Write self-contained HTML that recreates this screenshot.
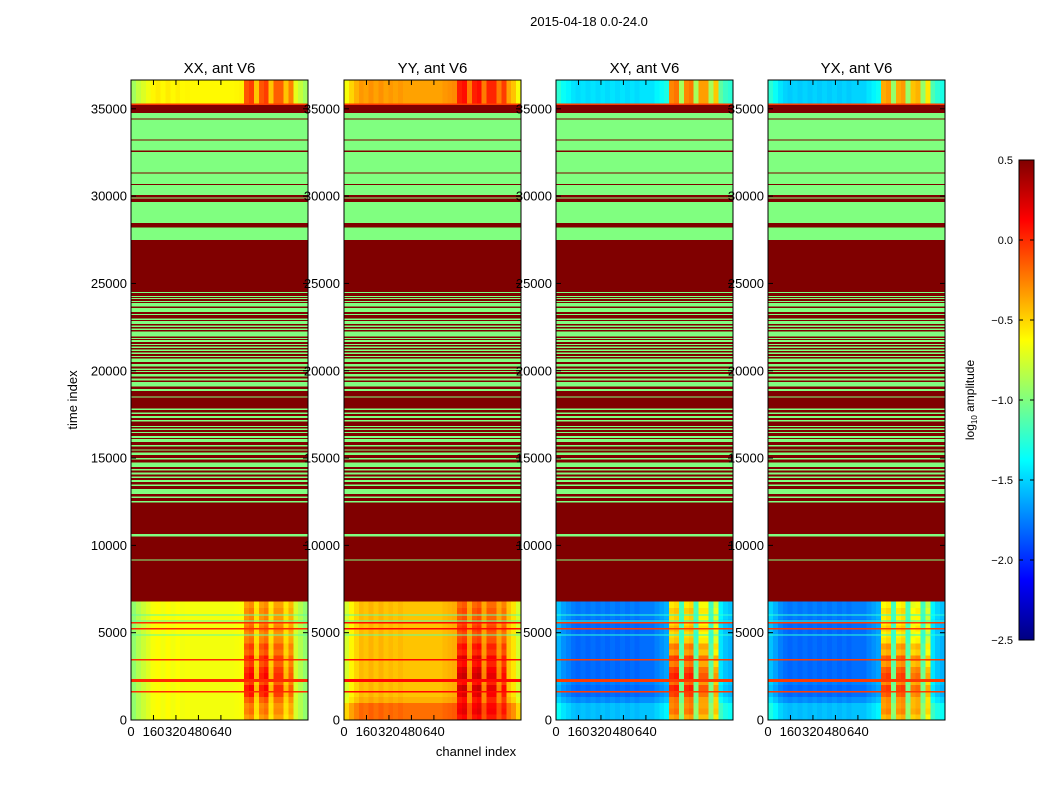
<!DOCTYPE html>
<html><head><meta charset="utf-8">
<style>
html,body{margin:0;padding:0;background:#fff;}
svg{display:block;font-family:"Liberation Sans","DejaVu Sans",sans-serif;}
</style></head>
<body>
<svg id="fig" width="1050" height="800" viewBox="0 0 1050 800" xmlns="http://www.w3.org/2000/svg">
<defs>
<linearGradient id="jet" x1="0" y1="1" x2="0" y2="0">
<stop offset="0" stop-color="#000080"/>
<stop offset="0.125" stop-color="#0000ff"/>
<stop offset="0.375" stop-color="#00ffff"/>
<stop offset="0.5" stop-color="#80ff80"/>
<stop offset="0.625" stop-color="#ffff00"/>
<stop offset="0.875" stop-color="#ff0000"/>
<stop offset="1" stop-color="#800000"/>
</linearGradient>
</defs>
<text x="589" y="26" font-size="13" text-anchor="middle">2015-04-18 0.0-24.0</text>
<text x="0" y="0" font-size="13" text-anchor="middle" transform="translate(77,400) rotate(-90)">time index</text>
<text x="476" y="756" font-size="13" text-anchor="middle">channel index</text>
<g id="panels"></g>
<g>
<rect x="1019" y="160" width="15" height="480" fill="url(#jet)" stroke="#000" stroke-width="1"/>
<g id="cbticks"></g>
<text x="0" y="0" font-size="12" text-anchor="middle" transform="translate(974,400) rotate(-90)">log<tspan font-size="8" dy="3">10</tspan><tspan dy="-3"> amplitude</tspan></text>
</g>
</svg>
<script>
// ---- data ----
const panelTitles = ["XX, ant V6", "YY, ant V6", "XY, ant V6", "YX, ant V6"];
const yTicks = [0, 5000, 10000, 15000, 20000, 25000, 30000, 35000];
const xTicks = [0, 160, 320, 480, 640];
const cbTicks = [0.5, 0.0, -0.5, -1.0, -1.5, -2.0, -2.5];
const cbLabels = ["0.5", "0.0", "\u22120.5", "\u22121.0", "\u22121.5", "\u22122.0", "\u22122.5"];
const greenBands = [
[34450,34770],[33250,34390],[32620,33190],[31350,32530],[30700,31290],[30060,30640],[29880,29930],[28470,29670],[27500,28200],
[24460,24518],[24231,24289],[24098,24155],[23945,24002],[23678,23888],[23372,23601],[23220,23258],[22914,22991],[22685,22838],
[22494,22590],[22342,22418],[21960,22246],[21826,21883],[21635,21750],[21463,21521],[21311,21387],[21139,21215],[20967,21043],
[20776,20853],[20509,20700],[20242,20394],[20051,20127],[19917,19974],[19669,19803],[19440,19554],[19096,19344],[18848,18963],
[18466,18524],[17760,17836],[17512,17607],[17302,17397],[17092,17187],[16767,16844],[16595,16691],[16424,16500],[16156,16252],
[15927,16080],[15660,15755],[15431,15488],[15164,15316],[14916,15011],[14476,14744],[14286,14362],[14056,14171],[13866,13942],
[13637,13751],[13407,13484],[12949,13216],[12720,12797],[12453,12529],[10500,10650],[9130,9200]
];
const greenValue = -1.0;
const satValue = 0.5;
const baseXX = [-0.95,-0.85,-0.78,-0.72,-0.65,-0.62,-0.66,-0.62,-0.66,-0.63,-0.66,-0.65,-0.66,-0.66,-0.66,-0.66,-0.66,-0.66,-0.66,-0.66,-0.66,-0.65,-0.64,-0.45,-0.4,-0.6,-0.45,-0.4,-0.6,-0.45,-0.45,-0.6,-0.5,-0.75,-0.85,-0.95];
const baseYY = [-0.75,-0.6,-0.5,-0.42,-0.45,-0.4,-0.45,-0.4,-0.45,-0.42,-0.45,-0.42,-0.45,-0.45,-0.45,-0.45,-0.45,-0.45,-0.45,-0.45,-0.42,-0.4,-0.38,-0.3,-0.25,-0.4,-0.3,-0.25,-0.4,-0.3,-0.3,-0.4,-0.35,-0.45,-0.55,-0.75];
const baseXY = [-1.6,-1.7,-1.75,-1.8,-1.83,-1.8,-1.83,-1.8,-1.83,-1.8,-1.83,-1.8,-1.83,-1.8,-1.83,-1.8,-1.83,-1.8,-1.8,-1.8,-1.75,-1.7,-1.65,-0.8,-0.75,-1.3,-0.8,-0.75,-1.3,-0.85,-0.85,-1.3,-0.95,-1.45,-1.55,-1.6];
const baseYX = [-1.55,-1.65,-1.75,-1.8,-1.83,-1.8,-1.83,-1.8,-1.83,-1.8,-1.83,-1.8,-1.83,-1.8,-1.83,-1.8,-1.83,-1.8,-1.8,-1.8,-1.75,-1.7,-1.65,-0.85,-0.8,-1.3,-0.85,-0.8,-1.3,-0.9,-0.85,-1.3,-1.0,-1.45,-1.55,-1.6];
const hotXX = [0,0,0,0,0,0,0,0,0,0,0,0,0,0,0,0,0,0,0,0,0,0,0,0.55,0.6,0.2,0.55,0.6,0.2,0.5,0.5,0.2,0.4,0,0,0];
const hotYY = [0,0,0,0,0,0,0,0,0,0,0,0,0,0,0,0,0,0,0,0,0,0,0,0.6,0.6,0.15,0.6,0.6,0.15,0.55,0.55,0.15,0.5,0,0,0];
const hotXY = [0,0,0,0,0,0,0,0,0,0,0,0,0,0,0,0,0,0,0,0,0,0,0,0.9,0.9,0.3,0.9,0.9,0.3,0.8,0.8,0.3,0.7,0,0,0];
const hotYX = [0,0,0,0,0,0,0,0,0,0,0,0,0,0,0,0,0,0,0,0,0,0,0,0.85,0.85,0.3,0.85,0.85,0.3,0.75,0.75,0.3,0.7,0,0,0];
const rowBoost = [0.2,0.35,0.3,0.5,0.8,0.9,0.6,0.9,0.8,0.6,0.8,0.5,0.6,0.35,0.3,0.4,0.3,0.25,0.3,0.2];
const rowShiftXX = [0,0,0,0,0,0,0,0,0,0,0,0,0,0,0,0,0,0,0,0];
const rowShiftYY = [0.25,0.25,0.25,0.05,0,0,0,0,0,0,0,0,0,0,0,0,0,0,0,0];
const rowShiftXY = [0.25,0.25,0.25,0.1,0,0,0.05,0,0,0,0,0,0,0,0,0,0,0.05,0.05,0.05];
const rowShiftYX = [0.25,0.25,0.25,0.1,0,0,0.05,0,0,0,0,0,0,0,0,0,0,0.05,0.05,0.05];
const topShift = [0.05, 0.1, 0.35, 0.3];
const topBoost = [0.5, 0.4, 0.2, 0.2];
const coolLines = [[5970,60],[5650,60],[4830,60]];
const hotLines = [[5560,60],[5210,60],[3440,60],[2290,60],[2190,60],[1600,60]];
const coolLineValue = [-1.1, -1.1, -1.25, -1.25];
const hotLineValue = [0.0, 0.1, -0.05, -0.05];
const edgeLine = [35230, 35300];
const edgeLineValue = -0.05;

const bases = [baseXX, baseYY, baseXY, baseYX];
const hots = [hotXX, hotYY, hotXY, hotYX];
const rowShifts = [rowShiftXX, rowShiftYY, rowShiftXY, rowShiftYX];

// ---- layout ----
const NS = "http://www.w3.org/2000/svg";
const panelLeft = [131, 344, 556, 768];
const PW = 177, TOP = 80, BOT = 720;
const TMAX = 36650, CMAX = 1260, VMIN = -2.5, VMAX = 0.5;
const yScale = t => BOT - t * (BOT - TOP) / TMAX;
const xScale = (p, c) => panelLeft[p] + c * PW / CMAX;
function clip(v){return Math.max(0, Math.min(1, v));}
function jet(v){
  const x = clip((v - VMIN) / (VMAX - VMIN));
  const r = clip(1.5 - Math.abs(4*x - 3)), g = clip(1.5 - Math.abs(4*x - 2)), b = clip(1.5 - Math.abs(4*x - 1));
  return "rgb(" + Math.round(r*255) + "," + Math.round(g*255) + "," + Math.round(b*255) + ")";
}
function mk(tag, attrs, parent){
  const e = document.createElementNS(NS, tag);
  for (const k in attrs) e.setAttribute(k, attrs[k]);
  parent.appendChild(e);
  return e;
}
const root = document.getElementById("panels");
const NB = 36, BW = 35, RH = 340;
for (let p = 0; p < 4; p++) {
  const g = mk("g", {}, root);
  
  
  const hm = mk("g", {"shape-rendering": "crispEdges"}, g);
  
  
  const sat = mk("rect", {x: xScale(p,0), y: yScale(edgeLine[1]), width: PW, height: yScale(6800) - yScale(edgeLine[1]), fill: jet(satValue)}, hm);
  
  
  for (const b of greenBands) {
    const y1 = yScale(b[1]), y2 = yScale(b[0]);
    const r = mk("rect", {x: xScale(p,0), y: y1, width: PW, height: Math.max(1, y2 - y1), fill: jet(greenValue)}, hm);
    
    
  }
  for (let ri = 0; ri < rowBoost.length; ri++) {
    const y1 = yScale((ri+1)*RH), y2 = yScale(ri*RH);
    for (let c = 0; c < NB; c++) {
      const v = bases[p][c] + hots[p][c]*rowBoost[ri] + rowShifts[p][ri];
      const r = mk("rect", {x: xScale(p, c*BW), y: y1, width: PW/NB + 0.6, height: y2 - y1 + 0.6, fill: jet(v)}, hm);
      
      
    }
  }
  const ty1 = yScale(TMAX), ty2 = yScale(edgeLine[1]);
  for (let c = 0; c < NB; c++) {
    const v = bases[p][c] + topShift[p] + hots[p][c]*topBoost[p];
    const r = mk("rect", {x: xScale(p, c*BW), y: ty1, width: PW/NB + 0.6, height: ty2 - ty1, fill: jet(v)}, hm);
    
    
  }
  const el = mk("rect", {x: xScale(p,0), y: yScale(edgeLine[1]), width: PW, height: yScale(edgeLine[0]) - yScale(edgeLine[1]), fill: jet(edgeLineValue)}, hm);
  
  
  for (const l of coolLines) {
    const r = mk("rect", {x: xScale(p,0), y: yScale(l[0]+l[1]), width: PW, height: 1, fill: jet(coolLineValue[p])}, hm);
    
    
  }
  for (const l of hotLines) {
    const r = mk("rect", {x: xScale(p,0), y: yScale(l[0]+l[1]), width: PW, height: 1.5, fill: jet(hotLineValue[p])}, hm);
    
    
  }
  const fr = mk("rect", {x: panelLeft[p], y: TOP, width: PW, height: BOT - TOP, fill: "none", stroke: "#000", "stroke-width": 1}, g);
  
  
  const tt = mk("text", {x: panelLeft[p] + PW/2, y: 73, "font-size": 15, "text-anchor": "middle"}, g);
  tt.textContent = panelTitles[p];
  
  
  for (const t of yTicks) {
    const y = yScale(t);
    mk("line", {x1: panelLeft[p], x2: panelLeft[p]+5, y1: y, y2: y, stroke: "#000"}, g);
    mk("line", {x1: panelLeft[p]+PW, x2: panelLeft[p]+PW-5, y1: y, y2: y, stroke: "#000"}, g);
    const tx = mk("text", {x: panelLeft[p] - 4, y: y + 4.5, "font-size": 13, "text-anchor": "end"}, g);
    tx.textContent = t;
    
    
  }
  for (const c of xTicks) {
    const x = xScale(p, c);
    mk("line", {x1: x, x2: x, y1: BOT, y2: BOT-5, stroke: "#000"}, g);
    mk("line", {x1: x, x2: x, y1: TOP, y2: TOP+5, stroke: "#000"}, g);
    const tx = mk("text", {x: x, y: 736, "font-size": 13, "text-anchor": "middle"}, g);
    tx.textContent = c;
    
    
  }
}
const cbg = document.getElementById("cbticks");
const cbY = v => 640 - (v - VMIN) / (VMAX - VMIN) * 480;
cbTicks.forEach((v, i) => {
  const y = cbY(v);
  mk("line", {x1: 1019, x2: 1023, y1: y, y2: y, stroke: "#000"}, cbg);
  mk("line", {x1: 1034, x2: 1030, y1: y, y2: y, stroke: "#000"}, cbg);
  const tx = mk("text", {x: 1013, y: y + 4, "font-size": 11, "text-anchor": "end"}, cbg);
  tx.textContent = cbLabels[i];
  
  
});
</script>
</body></html>
